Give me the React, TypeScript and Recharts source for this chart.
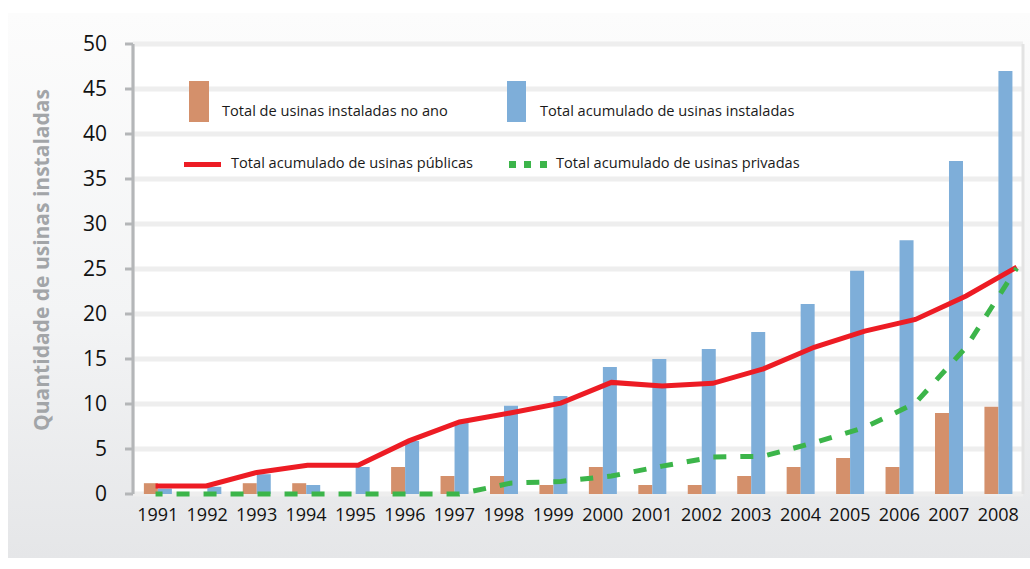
import React from 'react'
import { ComposedChart, Bar, Line, XAxis, YAxis, CartesianGrid } from 'recharts'

const years = ['1991', '1992', '1993', '1994', '1995', '1996', '1997', '1998', '1999', '2000', '2001', '2002', '2003', '2004', '2005', '2006', '2007', '2008']
const installedInYear = [1.2, 0, 1.2, 1.2, 0, 3, 2, 2, 1, 3, 1, 1, 2, 3, 4, 3, 9, 9.7]
const installedTotal = [0.6, 0.8, 2.2, 1, 3, 5.9, 8, 9.8, 10.9, 14.1, 15, 16.1, 18, 21.1, 24.8, 28.2, 37, 47]
const publicTotal = [0.9, 0.9, 2.4, 3.2, 3.2, 5.9, 8, 9, 10.1, 12.4, 12, 12.3, 13.9, 16.3, 18.1, 19.4, 22, 25.2]
const privateTotal = [0, 0, 0, 0, 0, 0, 0, 1.2, 1.4, 2, 3.1, 4.1, 4.2, 5.7, 7.4, 10.1, 16.3, 25.1]
const yTicks = [0, 5, 10, 15, 20, 25, 30, 35, 40, 45, 50]

const rows = years.map((year, i) => ({
  year,
  idx: i,
  annual: installedInYear[i],
  total: installedTotal[i],
  pub: publicTotal[i],
  priv: privateTotal[i],
}))
const boundaries = Array.from({ length: years.length + 1 }, (_, i) => i)

const FONT = '"Open Sans", "Noto Sans", sans-serif'
const AXIS = '#b4b6b8'
const ORANGE = '#d4906b'
const BLUE = '#7eaed9'
const RED = '#ed1c24'
const GREEN = '#3cb54a'

const legendText: React.CSSProperties = {
  position: 'absolute',
  fontFamily: FONT,
  fontSize: 14.6,
  lineHeight: '20px',
  color: '#1a1a1a',
  whiteSpace: 'nowrap',
}

function Legend() {
  return (
    <>
      <div style={{ position: 'absolute', left: 189, top: 81, width: 20, height: 41, background: ORANGE }} />
      <div style={{ ...legendText, left: 222, top: 100 }}>Total de usinas instaladas no ano</div>
      <div style={{ position: 'absolute', left: 507, top: 81, width: 19, height: 41, background: BLUE }} />
      <div style={{ ...legendText, left: 540, top: 100 }}>Total acumulado de usinas instaladas</div>
      <div style={{ position: 'absolute', left: 184, top: 161.5, width: 37, height: 5, background: RED }} />
      <div style={{ ...legendText, left: 231, top: 152 }}>Total acumulado de usinas públicas</div>
      {[509, 524, 540].map((x) => (
        <div key={x} style={{ position: 'absolute', left: x, top: 161, width: 7, height: 7, background: GREEN }} />
      ))}
      <div style={{ ...legendText, left: 556, top: 152 }}>Total acumulado de usinas privadas</div>
    </>
  )
}

export default function App() {
  return (
    <div style={{ position: 'absolute', left: 0, top: 0, width: 1030, height: 569, background: '#fff', overflow: 'hidden' }}>
      <div
        style={{
          position: 'absolute', left: 8, top: 13, width: 1022, height: 545,
          background: 'linear-gradient(to bottom, #fcfcfc 0%, #f3f4f5 55%, #e5e6e8 100%)',
        }}
      />
      <div style={{ position: 'absolute', left: 0, top: 0 }}>
        <ComposedChart width={1030} height={569} data={rows} margin={{ top: 44, right: 7, bottom: 0, left: 0 }} barGap={0} barCategoryGap="22%">
          <CartesianGrid xAxisId="grid" vertical={false} fill="#fff" stroke="#eeeeee" strokeWidth={5} />
          <CartesianGrid xAxisId="grid" horizontal={false} stroke="#e3e3e3" strokeWidth={3} />
          <XAxis
            xAxisId="grid" type="number" dataKey="idx" domain={[0, years.length]} ticks={boundaries}
            height={0} tick={false} tickSize={8} interval={0}
            axisLine={{ stroke: AXIS, strokeWidth: 3 }} tickLine={{ stroke: AXIS, strokeWidth: 3 }}
          />
          <XAxis
            xAxisId="cat" dataKey="year" height={75} interval={0} axisLine={false} tickLine={false}
            tickSize={8} tickMargin={6} tick={{ fontSize: 18, fill: '#111', fontFamily: FONT }}
          />
          <XAxis xAxisId="line" type="number" dataKey="idx" domain={[-0.445, 17.124]} allowDataOverflow hide />
          <YAxis
            width={133} domain={[0, 50]} ticks={yTicks} interval={0} tickSize={8} tickMargin={18}
            axisLine={{ stroke: AXIS, strokeWidth: 3 }} tickLine={{ stroke: AXIS, strokeWidth: 3 }}
            tick={{ fontSize: 21, fill: '#111', fontFamily: FONT }}
            label={{
              content: () => (
                <text
                  x={41} y={260} transform="rotate(-90, 41, 260)" textAnchor="middle" dominantBaseline="central"
                  fill="#a2a5a8" fontSize={21} fontWeight={700} fontFamily={FONT}
                >
                  Quantidade de usinas instaladas
                </text>
              ),
            }}
          />
          <Bar xAxisId="cat" dataKey="annual" fill={ORANGE} isAnimationActive={false} />
          <Bar xAxisId="cat" dataKey="total" fill={BLUE} isAnimationActive={false} />
          <Line xAxisId="line" type="linear" dataKey="pub" stroke={RED} strokeWidth={5} dot={false} activeDot={false} isAnimationActive={false} />
          <Line
            xAxisId="line" type="linear" dataKey="priv" stroke={GREEN} strokeWidth={5} strokeDasharray="13 14"
            strokeDashoffset={6} dot={false} activeDot={false} isAnimationActive={false}
          />
        </ComposedChart>
      </div>
      <Legend />
    </div>
  )
}
